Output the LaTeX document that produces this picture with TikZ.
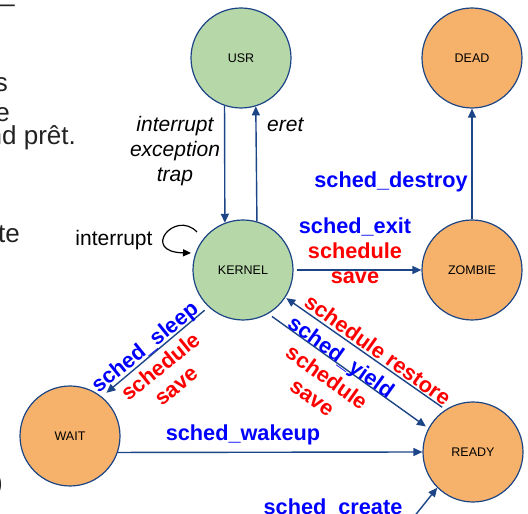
\documentclass[tikz,border=0pt]{standalone}
\usepackage{fontspec}
\setmainfont{Liberation Sans}
\usetikzlibrary{arrows.meta}
\definecolor{navy}{HTML}{1C4587}
\definecolor{stategreen}{HTML}{B6D7A8}
\definecolor{stateorange}{HTML}{F6B26B}
\definecolor{lblue}{HTML}{0000FF}
\definecolor{lred}{HTML}{FF0000}
\definecolor{slidetext}{HTML}{222222}
\begin{document}
\begin{tikzpicture}[x=1pt,y=1pt,
  state/.style={circle,minimum size=100pt,inner sep=0pt,draw=navy,line width=1.2pt,
    font=\fontsize{12.5}{14}\selectfont},
  kstate/.style={state,fill=stategreen},
  ostate/.style={state,fill=stateorange},
  arr/.style={draw=navy,line width=1.4pt,-{Triangle[length=9pt,width=8pt]}},
  looparr/.style={draw=black,line width=1.2pt,-{Triangle[length=8pt,width=7pt]}},
  lbl/.style={font=\bfseries\fontsize{21.7}{25}\selectfont,align=center,inner sep=0pt,text=lred},
  ilbl/.style={font=\itshape\fontsize{21}{25}\selectfont,align=center,inner sep=0pt},
  plbl/.style={font=\fontsize{21}{25}\selectfont,inner sep=0pt},
  frag/.style={font=\fontsize{26}{30}\selectfont,inner sep=0pt,text=slidetext}
]
\useasboundingbox (0,0) rectangle (528,514);
\clip (0,0) rectangle (528,514);

% slide text fragments at left edge
\node[frag,anchor=base east] (f1) at (8,422) {s};
\node[frag,anchor=base east] (f2) at (10,392) {e};
\node[frag,anchor=base west] (f3) at (-12.5,369) {nd prêt.};
\node[frag,anchor=base east] (f4) at (20,271) {te};
\node[frag,anchor=base east] (f5) at (3,22) {)};
\node[frag,anchor=base west] (f6) at (0,512.6) {\_};

% states
\node[kstate] (usr) at (241,456) {USR};
\node[ostate] (dead) at (472,456) {DEAD};
\node[kstate] (kernel) at (243,244) {KERNEL};
\node[ostate] (zombie) at (472,244) {ZOMBIE};
\node[ostate] (wait) at (70,78) {WAIT};
\node[ostate] (ready) at (473,62) {READY};

% connectors
\draw[arr] (usr.251.3) -- (kernel.111.1);
\draw[arr] (kernel.74.9) -- (usr.287.5);
\draw[arr,shorten <=3pt] (kernel.east) -- (zombie.west);
\draw[arr] (zombie.north) -- (dead.south);
\draw[arr,shorten <=5pt,shorten >=6pt] (kernel.227) -- (wait.51);
\draw[arr] (wait.341.3) -- (ready.west);
\draw[arr,shorten <=4.5pt,shorten >=3pt] (kernel.300.8) -- (ready.152.5);
\draw[arr,shorten <=4pt,shorten >=1pt] (ready.123.7) -- (kernel.327);
\coordinate (createstart) at (413,-4);
\draw[arr] (createstart) -- (ready.225);
\coordinate (loopA) at (197,282);
\coordinate (loopB) at (191,261);
\draw[looparr] (loopA) .. controls (175,305) and (140,262) .. (loopB);

% labels
\node[ilbl] (lint) at (175,363) {interrupt\\exception\\trap};
\node[ilbl,anchor=west] (leret) at (267,389) {eret};
\node[plbl] (lloop) at (114,274) {interrupt};
\node[lbl] (lexit) at (355,263) {\textcolor{lblue}{sched\_exit}\\schedule\\save};
\node[lbl,text=lblue] (ldestroy) at (391,332) {sched\_destroy};
\node[lbl,rotate=39] (lsleep) at (160,148) {\textcolor{lblue}{sched\_sleep}\\schedule\\save};
\node[lbl,rotate=-35.5] (lyield) at (327,137) {\textcolor{lblue}{sched\_yield}\\schedule\\save};
\node[lbl,rotate=-35.5] (lrestore) at (378,164) {schedule restore};
\node[lbl,text=lblue] (lwakeup) at (243,79) {sched\_wakeup};
\node[lbl,text=lblue,anchor=base] (lcreate) at (333,-0.5) {sched\_create};
\end{tikzpicture}
\end{document}
